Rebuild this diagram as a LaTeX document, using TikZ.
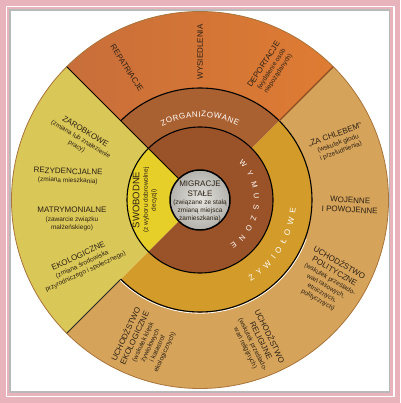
\documentclass[tikz,border=0pt]{standalone}
\usepackage{fontspec}
\setmainfont{Liberation Sans}
\usetikzlibrary{decorations.text}
\definecolor{framepink}{HTML}{E8B3BA}
\definecolor{cOrangeL}{HTML}{C86E3A}
\definecolor{cOrangeR}{HTML}{DF7C33}
\definecolor{cGreen}{HTML}{D9C757}
\definecolor{cTan}{HTML}{D5A35A}
\definecolor{cBrownMid}{HTML}{AA6131}
\definecolor{cGold}{HTML}{D39B2A}
\definecolor{cYellow}{HTML}{E6CF28}
\definecolor{cBrownIn}{HTML}{9A5328}
\definecolor{txt}{HTML}{2E2216}
\definecolor{grayIn}{HTML}{E4E3DE}
\definecolor{grayOut}{HTML}{B3B2AC}
\definecolor{rimC}{HTML}{A8743C}
\definecolor{sepC}{HTML}{8A4A22}
\newcommand\mhd[1]{{\fontsize{8}{9}\selectfont #1}}
\tikzset{
  lbl/.style={text=txt, align=center, inner sep=0pt, font=\fontsize{6.5}{8}\selectfont},
  curvetext/.style={decorate, decoration={text along path, text color=white, text align={fit to path}, text={#1}}}
}
\begin{document}
\begin{tikzpicture}[x=1pt,y=1pt]
\useasboundingbox (-200,-203) rectangle (200,200);
% frame
\fill[framepink] (-200,-203) rectangle (200,200);
\fill[white] (-194.3,-197) rectangle (194.5,194.3);
\fill[framepink] (-193.3,-195.5) rectangle (193.3,193.3);
\fill[gray!55] (-190.8,-192.5) rectangle (190.2,190.8);
\fill[white] (-189.3,-190.5) rectangle (188.7,189.3);
% radii
\def\Ra{30}\def\Rb{73}\def\Rc{112}\def\Rd{188.5}
% outer ring
\shade[left color=cOrangeL, right color=cOrangeR] (45:\Rc) arc[start angle=45,end angle=135,radius=\Rc] -- (135:\Rd) arc[start angle=135,end angle=45,radius=\Rd] -- cycle;
\fill[cGreen] (135:\Rb) arc[start angle=135,end angle=225,radius=\Rb] -- (225:\Rd) arc[start angle=225,end angle=135,radius=\Rd] -- cycle;
\fill[cTan] (-135:\Rc) arc[start angle=-135,end angle=45,radius=\Rc] -- (45:\Rd) arc[start angle=45,end angle=-135,radius=\Rd] -- cycle;
% middle ring
\fill[cBrownMid] (45:\Rb) arc[start angle=45,end angle=135,radius=\Rb] -- (135:\Rc) arc[start angle=135,end angle=45,radius=\Rc] -- cycle;
\fill[cGold] (-135:\Rb) arc[start angle=-135,end angle=45,radius=\Rb] -- (45:\Rc) arc[start angle=45,end angle=-135,radius=\Rc] -- cycle;
% inner ring
\fill[cYellow] (135:\Ra) arc[start angle=135,end angle=225,radius=\Ra] -- (225:\Rb) arc[start angle=225,end angle=135,radius=\Rb] -- cycle;
\fill[cBrownIn] (-135:\Ra) arc[start angle=-135,end angle=135,radius=\Ra] -- (135:\Rb) arc[start angle=135,end angle=-135,radius=\Rb] -- cycle;
% lines
\draw[rimC, line width=0.8] (0,0) circle[radius=\Rd];
\draw[black, line width=1.1] (0,0) circle[radius=\Rb];
\draw[white, line width=0.8] (-135:\Rc+1.2) arc[start angle=-135,end angle=-20,radius=\Rc+1.2];
\draw[black, line width=1.1] (-135:\Rc) arc[start angle=-135,end angle=135,radius=\Rc];
\draw[black, line width=1] (135:\Ra) -- (135:\Rd);
\draw[black!85, line width=0.8] (225:\Rc) -- (225:\Rd);
\draw[sepC, line width=1.1] (45:\Rc) -- (45:\Rd);
% centre
\shade[inner color=grayIn, outer color=grayOut] (0,0) circle[radius=\Ra];
\draw[black, line width=1.5] (0,0) circle[radius=\Ra];
% curved labels
\path[curvetext={|\fontsize{8}{9}\selectfont|ZORGANIZOWANE}] (117:83) arc[start angle=117,end angle=63,radius=83];
\path[curvetext={|\fontsize{7.5}{9}\selectfont|WYMUSZONE}] (44:54) arc[start angle=44,end angle=-56,radius=54];
\path[curvetext={|\fontsize{8}{9}\selectfont|ŻYWIOŁOWE}] (-58:96) arc[start angle=-58,end angle=-5,radius=96];
% outer labels
\node[lbl, rotate=-57.5] (rep) at (-73,132) {\mhd{REPATRIACJE}};
\node[lbl, rotate=90] (wys) at (0,148) {\mhd{WYSIEDLENIA}};
\node[lbl, rotate=57] (dep) at (71,131) {\mhd{DEPORTACJE}\\[0.5pt](wydalenie osób\\niepożądanych)};
\node[lbl, rotate=20] (zach) at (138,57) {\mhd{„ZA CHLEBEM”}\\[0.5pt](wskutek głodu\\i przeludnienia)};
\node[lbl, rotate=-3] (woj) at (150,-5) {\mhd{WOJENNE}\\[1.5pt]\mhd{I POWOJENNE}};
\node[lbl, rotate=-30] (pol) at (129,-81) {\mhd{UCHODŹSTWO}\\[1.5pt]\mhd{POLITYCZNE}\\[0.5pt](wskutek prześlado-\\wań rasowych,\\etnicznych,\\politycznych)};
\node[lbl, rotate=-64] (rel) at (58,-142) {\mhd{UCHODŹSTWO}\\[1.5pt]\mhd{RELIGIJNE}\\[0.5pt](wskutek prześlado-\\wań religijnych)};
\node[lbl, rotate=65] (eko) at (-55,-143) {\mhd{UCHODŹSTWO}\\[1.5pt]\mhd{EKOLOGICZNE}\\[0.5pt](wskutek klęsk\\żywiołowych\\i katastrof\\ekologicznych)};
\node[lbl, rotate=-31] (zar) at (-119,61) {\mhd{ZAROBKOWE}\\[0.5pt](zmiana lub znalezienie\\pracy)};
\node[lbl, rotate=-2] (rez) at (-132,24) {\mhd{REZYDENCJALNE}\\[0.5pt](zmiana mieszkania)};
\node[lbl] (mat) at (-128,-19) {\mhd{MATRYMONIALNE}\\[0.5pt](zawarcie związku\\małżeńskiego)};
\node[lbl, rotate=25] (ekl) at (-118,-64) {\mhd{EKOLOGICZNE}\\[0.5pt](zmiana środowiska\\przyrodniczego i społecznego)};
% inner labels
\node[lbl, rotate=90] (swo) at (-55,0) {{\fontsize{9.5}{10}\selectfont SWOBODNE}\\[0.5pt](z wyboru dobrowolnej\\decyzji)};
\node[lbl] (mig) at (0,-1.5) {\mhd{MIGRACJE}\\[1.5pt]\mhd{STAŁE}\\[0.5pt](związane ze stałą\\zmianą miejsca\\zamieszkania)};
\end{tikzpicture}
\end{document}
